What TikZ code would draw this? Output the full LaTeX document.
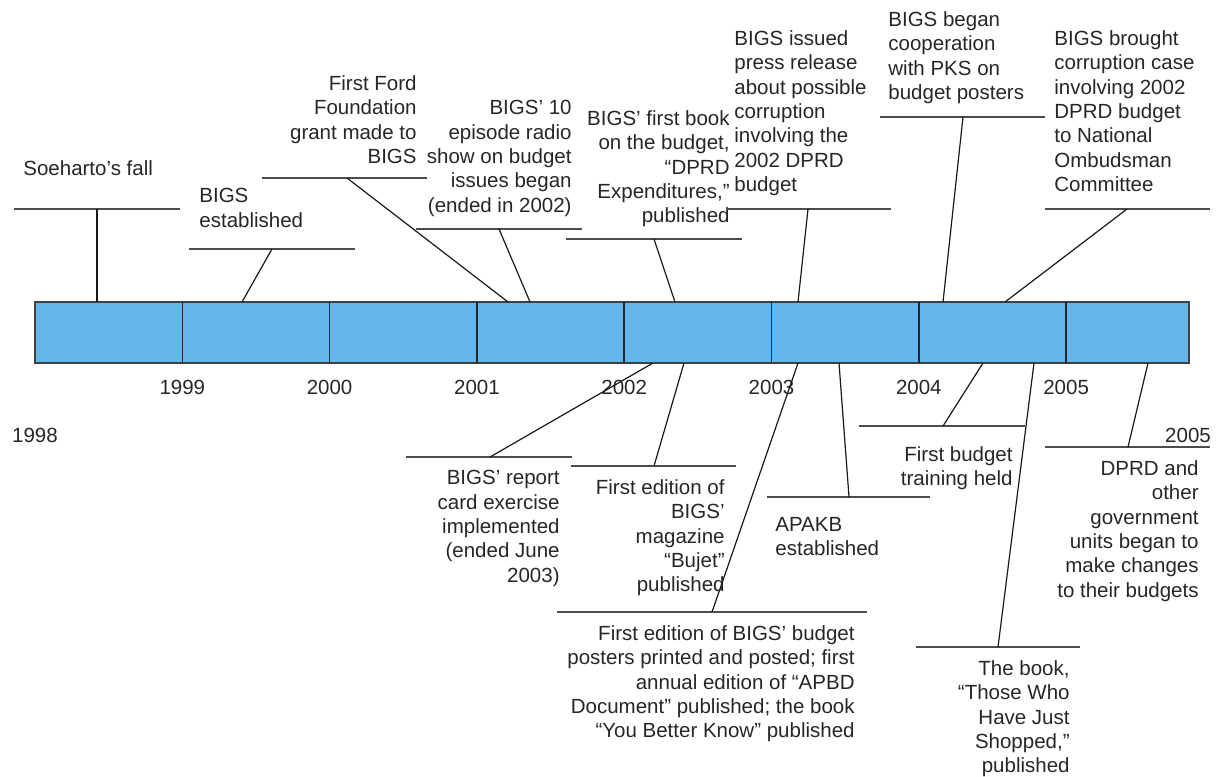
\documentclass[tikz,border=0pt]{standalone}
\usepackage{fontspec}
\setmainfont{Liberation Sans}

\definecolor{barblue}{RGB}{100,181,234}

\tikzset{
  bar/.style={draw=black!75, line width=0.75pt, fill=barblue},
  divider/.style={draw=black!85, line width=0.75pt},
  shelf/.style={draw=black!70, line width=0.9pt},
  leader/.style={draw=black!90, line width=0.6pt},
  note/.style={inner sep=0pt, text=black!85, font=\fontsize{10.25}{12.2}\selectfont},
  yearlbl/.style={note},
}

\begin{document}
\begin{tikzpicture}[x=0.5pt, y=-0.5pt]

	\useasboundingbox (0,0) rectangle (1219,776);

	% Bar dimensions
	\def\barleft{35}
	\def\barright{1189}
	\def\bartop{302}
	\def\barbot{363}
	\def\segw{147.3}

	% Timeline bar
	\draw[bar] (\barleft,\bartop) rectangle (\barright,\barbot);
	\foreach \k in {1,...,7}
		\draw[divider] ({\barleft+\k*\segw},\bartop) -- ({\barleft+\k*\segw},\barbot);

	% Years
	\foreach \k/\yr in {1/1999, 2/2000, 3/2001, 4/2002, 5/2003, 6/2004, 7/2005}
		\node[yearlbl] (y\yr) at ({\barleft+\k*\segw},387) {\yr};
	\node[yearlbl] (y1998) at (35,435) {1998};
	\node[yearlbl] (yend) at (1188,435) {2005};

	% Events above the bar
	\draw[shelf] (14,209) -- (180,209);
	\coordinate (fall-s) at (97,209);
	\coordinate (fall-b) at (97,\bartop);
	\draw[leader] (fall-s) -- (fall-b);
	\node[note, anchor=north west] (fall) at (23,160) {Soeharto’s fall};

	\draw[shelf] (189,249) -- (355,249);
	\coordinate (est-s) at (272,249);
	\coordinate (est-b) at (242,\bartop);
	\draw[leader] (est-s) -- (est-b);
	\node[note, anchor=north west, align=left] (est) at (199,188) {BIGS\\established};

	\draw[shelf] (262,178) -- (427,178);
	\coordinate (ford-s) at (347,178);
	\coordinate (ford-b) at (508,\bartop);
	\draw[leader] (ford-s) -- (ford-b);
	\node[note, anchor=north east, align=right] (ford) at (417,75) {First Ford\\Foundation\\grant made to\\BIGS};

	\draw[shelf] (416,229) -- (582,229);
	\coordinate (radio-s) at (499,229);
	\coordinate (radio-b) at (530,\bartop);
	\draw[leader] (radio-s) -- (radio-b);
	\node[note, anchor=north east, align=right] (radio) at (572,100) {BIGS’ 10\\episode radio\\show on budget\\issues began\\(ended in 2002)};

	\draw[shelf] (566,239) -- (742,239);
	\coordinate (book-s) at (654,239);
	\coordinate (book-b) at (675,\bartop);
	\draw[leader] (book-s) -- (book-b);
	\node[note, anchor=north east, align=right] (book) at (730,110) {BIGS’ first book\\on the budget,\\“DPRD\\Expenditures,”\\published};

	\draw[shelf] (727,209) -- (891,209);
	\coordinate (press-s) at (808,209);
	\coordinate (press-b) at (798,\bartop);
	\draw[leader] (press-s) -- (press-b);
	\node[note, anchor=north west, align=left] (press) at (734,30) {BIGS issued\\press release\\about possible\\corruption\\involving the\\2002 DPRD\\budget};

	\draw[shelf] (880,117) -- (1045,117);
	\coordinate (pks-s) at (963,117);
	\coordinate (pks-b) at (943,\bartop);
	\draw[leader] (pks-s) -- (pks-b);
	\node[note, anchor=north west, align=left] (pks) at (888,11) {BIGS began\\cooperation\\with PKS on\\budget posters};

	\draw[shelf] (1045,209) -- (1210,209);
	\coordinate (ombud-s) at (1127,209);
	\coordinate (ombud-b) at (1005,\bartop);
	\draw[leader] (ombud-s) -- (ombud-b);
	\node[note, anchor=north west, align=left] (ombud) at (1054,30) {BIGS brought\\corruption case\\involving 2002\\DPRD budget\\to National\\Ombudsman\\Committee};

	% Events below the bar
	\draw[shelf] (406,457) -- (572,457);
	\coordinate (card-b) at (653,\barbot);
	\coordinate (card-s) at (490,457);
	\draw[leader] (card-b) -- (card-s);
	\node[note, anchor=north east, align=right] (card) at (560,470) {BIGS’ report\\card exercise\\implemented\\(ended June\\2003)};

	\draw[shelf] (571,466) -- (736,466);
	\coordinate (bujet-b) at (684,\barbot);
	\coordinate (bujet-s) at (654,466);
	\draw[leader] (bujet-b) -- (bujet-s);
	\node[note, anchor=north east, align=right] (bujet) at (725,479) {First edition of\\BIGS’\\magazine\\“Bujet”\\published};

	\draw[shelf] (557,612) -- (867,612);
	\coordinate (poster-b) at (798,\barbot);
	\coordinate (poster-s) at (712,612);
	\draw[leader] (poster-b) -- (poster-s);
	\node[note, anchor=north east, align=right] (poster) at (855,625) {First edition of BIGS’ budget\\posters printed and posted; first\\annual edition of “APBD\\Document” published; the book\\“You Better Know” published};

	\draw[shelf] (767,497) -- (930,497);
	\coordinate (apakb-b) at (839,\barbot);
	\coordinate (apakb-s) at (849,497);
	\draw[leader] (apakb-b) -- (apakb-s);
	\node[note, anchor=north west, align=left] (apakb) at (775,517) {APAKB\\established};

	\draw[shelf] (859,426) -- (1025,426);
	\coordinate (train-b) at (983,\barbot);
	\coordinate (train-s) at (943,426);
	\draw[leader] (train-b) -- (train-s);
	\node[note, anchor=north east, align=right] (train) at (1013,446) {First budget\\training held};

	\draw[shelf] (916,647) -- (1080,647);
	\coordinate (shop-b) at (1034,\barbot);
	\coordinate (shop-s) at (998,647);
	\draw[leader] (shop-b) -- (shop-s);
	\node[note, anchor=north east, align=right] (shop) at (1070,660) {The book,\\“Those Who\\Have Just\\Shopped,”\\published};

	\draw[shelf] (1045,447) -- (1210,447);
	\coordinate (dprd-b) at (1148,\barbot);
	\coordinate (dprd-s) at (1128,447);
	\draw[leader] (dprd-b) -- (dprd-s);
	\node[note, anchor=north east, align=right] (dprd) at (1199,460) {DPRD and\\other\\government\\units began to\\make changes\\to their budgets};

\end{tikzpicture}
\end{document}
